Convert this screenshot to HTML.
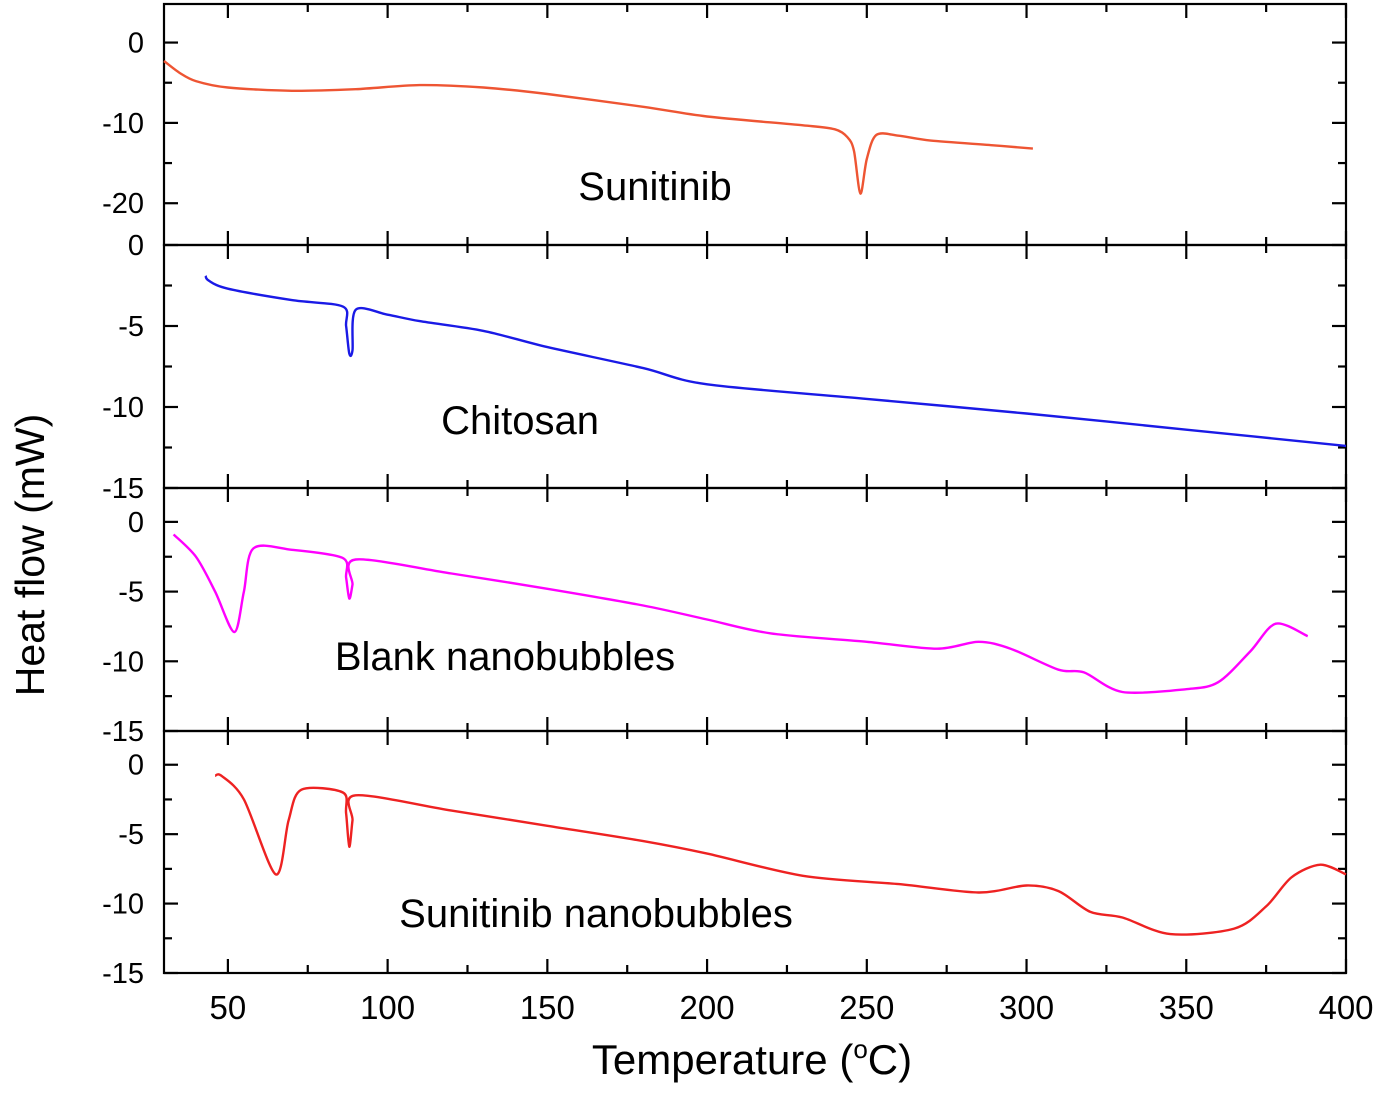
<!DOCTYPE html>
<html><head><meta charset="utf-8"><style>
body{margin:0;background:#fff}
svg text{font-family:"Liberation Sans",Arial,sans-serif;fill:#000}
</style></head><body>
<svg id="chart" width="1379" height="1088" viewBox="0 0 1379 1088" xmlns="http://www.w3.org/2000/svg"></svg>
<script>
const xTicks=[50,100,150,200,250,300,350,400];
const panelNames=["Sunitinib","Chitosan","Blank nanobubbles","Sunitinib nanobubbles"];
const sunitinibX=[30,35,40,50,70,90,110,130,150,180,200,230,240,244,246,248,250,253,260,270,290,302];
const sunitinibY=[-2.3,-3.8,-4.8,-5.6,-6,-5.8,-5.3,-5.6,-6.4,-8,-9.2,-10.3,-10.8,-11.8,-13.5,-18.8,-14.5,-11.5,-11.6,-12.2,-12.8,-13.2];
const chitosanX=[43,44,50,70,86,87,88,89,90,100,110,130,150,180,200,250,300,350,400];
const chitosanY=[-1.9,-2.2,-2.7,-3.4,-3.8,-5,-6.7,-6.5,-4,-4.3,-4.7,-5.3,-6.3,-7.6,-8.6,-9.5,-10.4,-11.4,-12.4];
const blankX=[33,40,46,52,55,58,70,86,87,88,89,90,120,150,180,200,220,250,272,285,295,310,318,330,350,360,370,378,388];
const blankY=[-0.9,-2.5,-5,-7.9,-5,-1.9,-2,-2.6,-4,-5.5,-4.5,-2.7,-3.7,-4.8,-6,-7,-8,-8.6,-9.1,-8.6,-9.1,-10.6,-10.8,-12.2,-12,-11.5,-9.3,-7.3,-8.2];
const nanoX=[46,48,55,65,69,73,86,87,88,89,90,120,150,180,200,230,260,285,300,310,320,330,345,365,375,383,392,400];
const nanoY=[-0.8,-0.8,-2.5,-7.9,-4,-1.8,-2,-3.5,-5.9,-4,-2.2,-3.3,-4.4,-5.5,-6.4,-8,-8.6,-9.2,-8.7,-9.1,-10.6,-11,-12.2,-11.8,-10.2,-8.1,-7.2,-7.9];
const panelTicks=[[0,-10,-20],[0,-5,-10,-15],[0,-5,-10,-15],[0,-5,-10,-15]];
const panelMinor=[[-5,-15],[-2.5,-7.5,-12.5],[-2.5,-7.5,-12.5],[-2.5,-7.5,-12.5]];

const svg=document.getElementById('chart');
const NS="http://www.w3.org/2000/svg";
const L=164,R=1346;
const X=v=>L+(v-30)*(R-L)/370;
const panels=[
 {top:4,bot:245,ymax:4.8,ymin:-25.2,xs:sunitinibX,ys:sunitinibY,color:"#ee5533",lx:655,ly:200},
 {top:245,bot:488,ymax:0,ymin:-15,xs:chitosanX,ys:chitosanY,color:"#1a1ae6",lx:520,ly:434},
 {top:488,bot:731,ymax:2.43,ymin:-15,xs:blankX,ys:blankY,color:"#ff00ff",lx:505,ly:670},
 {top:731,bot:973,ymax:2.43,ymin:-15,xs:nanoX,ys:nanoY,color:"#ee2222",lx:596,ly:927}
];
function el(t,a,p){const e=document.createElementNS(NS,t);for(const k in a)e.setAttribute(k,a[k]);(p||svg).appendChild(e);return e;}
function smooth(P){
 let d='M'+P[0][0].toFixed(1)+','+P[0][1].toFixed(1);
 for(let i=0;i<P.length-1;i++){
  const p0=P[i-1]||P[i],p1=P[i],p2=P[i+1],p3=P[i+2]||P[i+1],t=0.15;
  const c1=[p1[0]+(p2[0]-p0[0])*t,p1[1]+(p2[1]-p0[1])*t];
  const c2=[p2[0]-(p3[0]-p1[0])*t,p2[1]-(p3[1]-p1[1])*t];
  d+=' C'+c1.map(v=>v.toFixed(1)).join(',')+' '+c2.map(v=>v.toFixed(1)).join(',')+' '+p2.map(v=>v.toFixed(1)).join(',');
 }
 return d;
}
panels.forEach((p,i)=>{
 const Y=v=>p.top+(p.ymax-v)*(p.bot-p.top)/(p.ymax-p.ymin);
 const g=el('g',{});
 
 
 const fr=el('rect',{x:L,y:p.top,width:R-L,height:p.bot-p.top,fill:'none',stroke:'#000','stroke-width':2.2},g);
 
 
 panelTicks[i].forEach(t=>{
  const y=Y(t);
  el('line',{x1:L,x2:L+14,y1:y,y2:y,stroke:'#000','stroke-width':2.2},g);
  el('line',{x1:R,x2:R-14,y1:y,y2:y,stroke:'#000','stroke-width':2.2},g);
  const tx=el('text',{x:144,y:y+10,'font-size':29,'text-anchor':'end'},g);
  tx.textContent=t;
  
  
 });
 panelMinor[i].forEach(t=>{
  const y=Y(t);
  el('line',{x1:L,x2:L+8,y1:y,y2:y,stroke:'#000','stroke-width':2.2},g);
  el('line',{x1:R,x2:R-8,y1:y,y2:y,stroke:'#000','stroke-width':2.2},g);
 });
 xTicks.forEach(t=>{
  const x=X(t);
  el('line',{x1:x,x2:x,y1:p.bot,y2:p.bot-14,stroke:'#000','stroke-width':2.2},g);
  el('line',{x1:x,x2:x,y1:p.top,y2:p.top+14,stroke:'#000','stroke-width':2.2},g);
  const m=X(t-25);
  if(t-25>30){el('line',{x1:m,x2:m,y1:p.bot,y2:p.bot-8,stroke:'#000','stroke-width':2.2},g);
  el('line',{x1:m,x2:m,y1:p.top,y2:p.top+8,stroke:'#000','stroke-width':2.2},g);}
 });
 const P=p.xs.map((v,k)=>[X(v),Y(p.ys[k])]);
 const ln=el('path',{d:smooth(P),fill:'none',stroke:p.color,'stroke-width':2.4,'stroke-linejoin':'round'},g);
 
 
 const lb=el('text',{x:p.lx,y:p.ly,'font-size':40,'text-anchor':'middle'},g);
 lb.textContent=panelNames[i];
 
 
});
xTicks.forEach(t=>{
 const tx=el('text',{x:X(t),y:1019,'font-size':33,'text-anchor':'middle'});
 tx.textContent=t;
 
 
});
const xt=el('text',{x:752,y:1074,'font-size':42,'text-anchor':'middle'});
xt.innerHTML='Temperature (<tspan dy="-16" font-size="26">o</tspan><tspan dy="16">C)</tspan>';


const yt=el('text',{x:0,y:0,'font-size':41,'text-anchor':'middle',transform:'translate(44,555) rotate(-90)'});
yt.textContent='Heat flow (mW)';


</script>
</body></html>
